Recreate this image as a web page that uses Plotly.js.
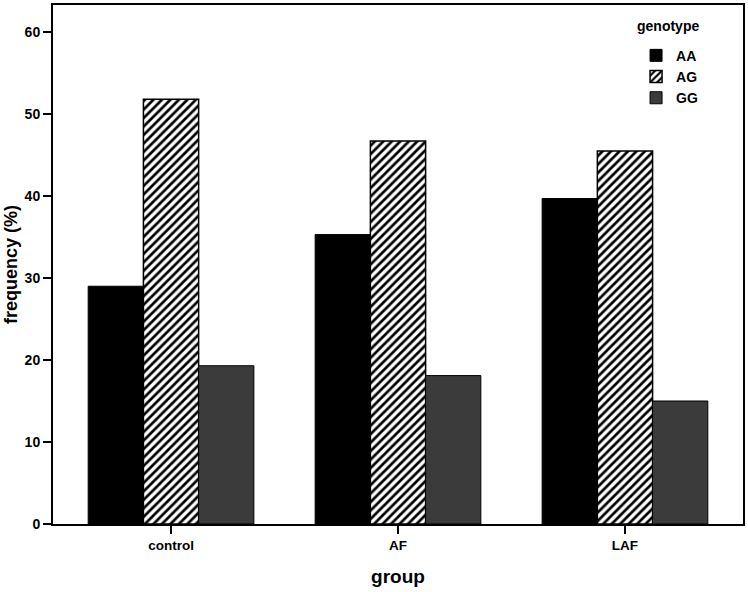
<!DOCTYPE html>
<html><head><meta charset="utf-8">
<script src="https://cdn.plot.ly/plotly-3.0.1.min.js"></script>
<style>body{margin:0;background:#fff}#c{width:748px;height:592px}</style>
</head><body><div id="c"></div>
<script>
const groups = ["control", "AF", "LAF"];
const AA = [29.0, 35.3, 39.7];
const AG = [51.8, 46.7, 45.5];
const GG = [19.3, 18.1, 15.0];
const yTicks = [0, 10, 20, 30, 40, 50, 60];
const legendTitle = "genotype";

const font = {family: "Liberation Sans, Arial, sans-serif", color: "#000"};
const traces = [
  {type: "bar", name: "AA", x: groups, y: AA, legendgroup: "a",
   marker: {color: "#000", line: {color: "#000", width: 1}}},
  {type: "bar", name: "AG", x: groups, y: AG, legendgroup: "b",
   marker: {color: "#fff", line: {color: "#000", width: 1.5},
            pattern: {shape: "/", fgcolor: "#000", bgcolor: "#fff", size: 6, solidity: 0.45}}},
  {type: "bar", name: "GG", x: groups, y: GG, legendgroup: "c",
   marker: {color: "#3a3b3a", line: {color: "#000", width: 1}}}
];
const layout = {
  width: 748, height: 592,
  margin: {l: 53, r: 5, t: 5, b: 68},
  paper_bgcolor: "#fff", plot_bgcolor: "#fff",
  barmode: "group", bargap: 0.27, bargroupgap: 0,
  font: Object.assign({size: 13}, font),
  xaxis: {
    type: "category", range: [-0.52, 2.52],
    showline: true, linecolor: "#000", linewidth: 2, mirror: true,
    ticks: "outside", ticklen: 8, tickwidth: 2, tickcolor: "#000",
    tickfont: Object.assign({size: 13.5, weight: "bold"}, font),
    title: {text: "<b>group</b>", font: Object.assign({size: 19}, font), standoff: 17}
  },
  yaxis: {
    range: [0, 63.3], tickvals: yTicks, ticktext: yTicks.map(String),
    showgrid: false, zeroline: false,
    showline: true, linecolor: "#000", linewidth: 2, mirror: true,
    ticks: "outside", ticklen: 8, tickwidth: 2, tickcolor: "#000",
    tickfont: Object.assign({size: 14, weight: "bold"}, font),
    title: {text: "<b>frequency (%)</b>", font: Object.assign({size: 18}, font), standoff: 2}
  },
  legend: {
    x: 0.845, y: 0.933, xanchor: "left", yanchor: "top",
    bgcolor: "rgba(0,0,0,0)",
    font: Object.assign({size: 14, weight: "bold"}, font),
    itemwidth: 30, tracegroupgap: 2, traceorder: "normal"
  },
  annotations: [{
    text: "<b>" + legendTitle + "</b>", xref: "paper", yref: "paper",
    x: 0.843, y: 0.960, xanchor: "left", yanchor: "middle", showarrow: false,
    font: Object.assign({size: 14}, font)
  }],
  showlegend: true
};
Plotly.newPlot("c", traces, layout, {displayModeBar: false, staticPlot: true});
</script></body></html>
